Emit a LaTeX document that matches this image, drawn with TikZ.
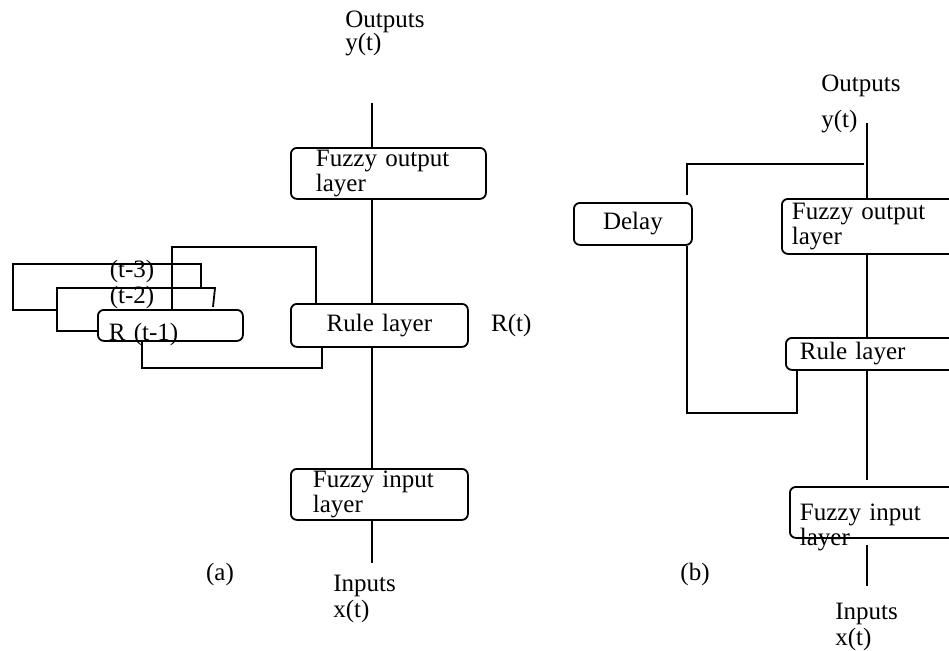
\documentclass[tikz,border=0pt]{standalone}
\usepackage{fontspec}
\setmainfont{Liberation Serif}
\usepackage{tikz}
\usetikzlibrary{positioning, calc}
\tikzstyle{layerbox} = [rectangle, rounded corners=3pt, draw, line width=0.9pt, anchor=north west,
  inner ysep=0pt, align=left, font=\fontsize{12.5}{12.5}\selectfont]
\tikzstyle{lbl} = [inner sep=0pt, align=left, font=\fontsize{12.5}{13}\selectfont]
\tikzstyle{wire} = [line width=0.9pt]

\begin{document}
\begin{tikzpicture}[x=0.5pt, y=-0.5pt]
  \useasboundingbox (0,0) rectangle (949,650);

  % (a) layers
  \node (foA) [layerbox, inner xsep=12.5pt, text width=72.5pt, minimum height=25.5pt]
    at (290,147) {Fuzzy output\\layer};
  \node (rlA) [layerbox, inner xsep=0pt, text width=88.5pt, minimum height=21.5pt, align=center]
    at (290,303) {Rule layer};
  \node (fiA) [layerbox, inner xsep=11pt, text width=66.5pt, minimum height=25.5pt]
    at (290,468) {Fuzzy input\\layer};
  \node (r1A) [layerbox, inner xsep=5.5pt, text width=61.5pt, minimum height=15.5pt,
    text height=15.5pt, text depth=0pt] at (97,309) {R (t-1)};

  % (a) labels
  \node (outA) [lbl, anchor=north west] at (345,11) {Outputs\\[-1.5pt]y(t)};
  \node (inA) [lbl, anchor=north west] at (333,575) {Inputs\\x(t)};
  \node (rtA) [lbl, right=11pt of rlA] {R(t)};
  \node (t3A) [lbl] at (132,271) {(t-3)};
  \node (t2A) [lbl] at (132,297) {(t-2)};
  \node (capA) [lbl] at (220,574) {(a)};

  % (a) spine
  \coordinate (topA) at (372,103);
  \coordinate (botA) at (372,563);
  \draw[wire] (topA) -- (topA |- foA.north);
  \draw[wire] (foA.south -| topA) -- (rlA.north -| topA);
  \draw[wire] (rlA.south -| topA) -- (fiA.north -| topA);
  \draw[wire] (fiA.south -| topA) -- (botA);

  % (a) delayed loops
  \coordinate (fbA) at (172,247);
  \coordinate (bkA) at (322,368);
  \draw[wire] ([xshift=13pt]rlA.north west) |- (fbA) -- (fbA |- r1A.north);
  \draw[wire] ([xshift=22.5pt]r1A.south west) |- (bkA) -- (bkA |- rlA.south);
  \coordinate (t2a) at (57,288);
  \coordinate (t2b) at (215,288);
  \coordinate (t2c) at (213,307);
  \draw[wire] ([yshift=-2.75pt]r1A.west) -| (t2a) -- (t2b) -- (t2c);
  \coordinate (t3a) at (57,310);
  \coordinate (t3b) at (13,264);
  \coordinate (t3c) at (201,288);
  \draw[wire] (t3a) -| (t3b) -| (t3c);

  % (b) layers
  \node (delay) [layerbox, inner xsep=0pt, text width=59pt, minimum height=21pt, align=center]
    at (573,202) {Delay};
  \node (foB) [layerbox, inner xsep=5pt, text width=84.5pt, minimum height=27.5pt]
    at (781,198) {Fuzzy output\\layer};
  \node (rlB) [layerbox, inner xsep=7pt, text width=78.5pt, minimum height=16pt]
    at (785,337) {Rule layer};
  \node (fiB) [layerbox, inner xsep=5pt, text width=80.5pt, minimum height=25.5pt, text depth=0pt]
    at (789,486) {Fuzzy input\\layer};

  % (b) labels
  \node (outB) [lbl, anchor=north west] at (821,75) {Outputs\\[5pt]y(t)};
  \node (inB) [lbl, anchor=north west] at (835,603) {Inputs\\x(t)};
  \node (capB) [lbl] at (695,574) {(b)};

  % (b) spine
  \coordinate (topB) at (867,123);
  \coordinate (botB) at (867,586);
  \draw[wire] (topB) -- (topB |- foB.north);
  \draw[wire] (foB.south -| topB) -- (rlB.north -| topB);
  \draw[wire] (rlB.south -| topB) -- ([yshift=3pt]fiB.north -| topB);
  \draw[wire] ([yshift=-3pt]fiB.south -| topB) -- (botB);

  % (b) delay loop
  \coordinate (tapB) at (864,164);
  \coordinate (dlyin) at (687,195);
  \coordinate (loopB) at (797,413);
  \draw[wire] (tapB) -| (dlyin);
  \draw[wire] ([xshift=-3pt]delay.south east) |- (loopB) -- (loopB |- rlB.south);
\end{tikzpicture}
\end{document}
